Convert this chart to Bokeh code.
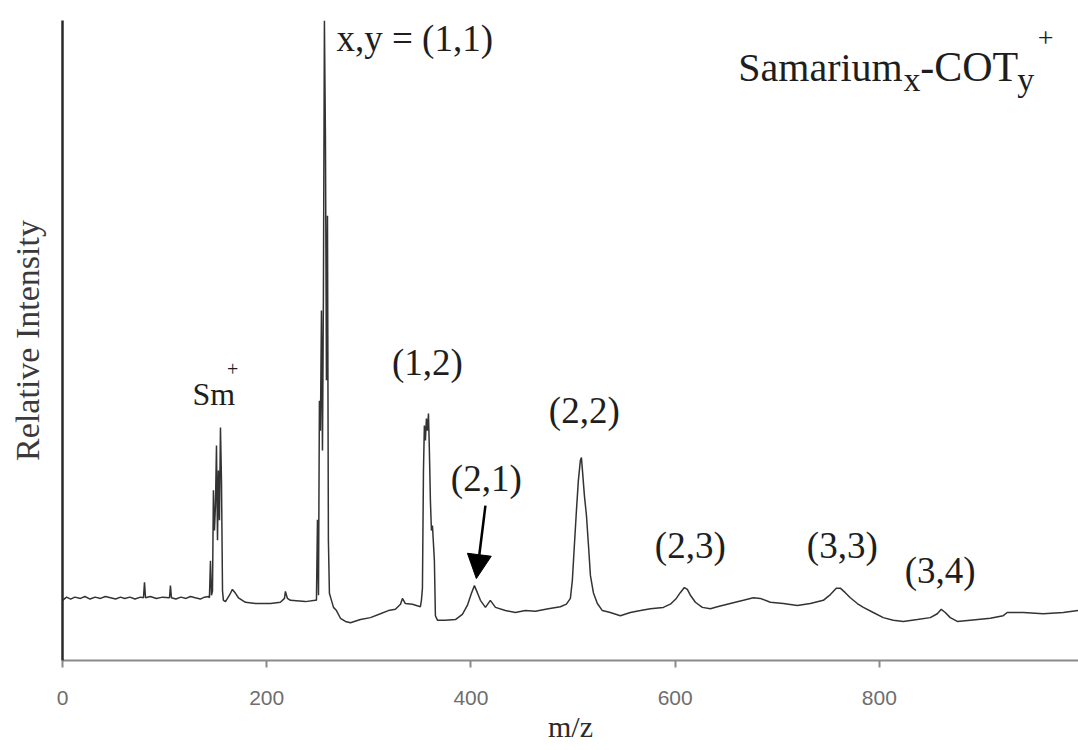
from bokeh.plotting import figure
from bokeh.models import Range1d, Arrow, NormalHead, Label, FixedTicker
from bokeh.embed import file_html
from bokeh.resources import INLINE

# Mass spectrum of samarium / cyclooctatetraene cluster ions
mz = [
    0.0, 4.0, 8.0, 12.0, 17.6, 22.0, 27.0, 32.0, 37.2, 42.0, 47.0, 52.0, 56.8, 61.0, 66.0, 71.0,
    76.4, 79.3, 80.3, 81.3, 86.0, 92.0, 98.0, 104.8, 105.7, 106.7, 111.0, 116.0, 121.0, 125.3,
    130.0, 135.0, 139.0, 143.0,
    143.9, 144.9, 145.9, 146.9, 147.8, 148.8, 149.8, 150.8, 151.8, 152.7, 153.7, 154.7, 155.7, 156.7, 157.6,
    159.6, 163.5, 166.4, 169.4, 172.3, 179.2, 189.0, 203.7, 213.4, 217.4, 218.3, 220.3, 223.2, 237.9, 247.7,
    248.7, 249.7, 250.7, 251.6, 252.6, 253.6, 254.6, 255.5, 256.5, 257.5, 258.5, 259.5, 260.4, 261.4,
    263.4, 265.4, 268.3, 272.2, 277.1, 282.0, 291.8, 301.6, 311.3, 319.2, 326.0, 331.0, 332.9, 335.8,
    342.7, 350.5,
    351.5, 352.5, 353.5, 354.4, 355.4, 356.4, 357.4, 358.4, 359.3, 360.3, 361.3, 362.3, 364.2, 365.2, 367.2,
    375.0, 384.8, 391.6, 396.5, 400.5, 403.4, 406.3, 409.3, 414.2, 419.0, 424.0, 433.7, 443.5, 453.3,
    463.1, 475.8, 487.6, 493.5,
    497.4, 499.3, 501.3, 503.3, 505.2, 507.2, 508.2, 509.2, 511.1, 513.1, 515.1, 517.0, 519.9, 523.8,
    528.7, 536.5, 546.3, 556.1, 566.0, 575.8, 588.4, 595.3, 601.1, 605.0, 609.0, 611.9, 614.9, 619.8,
    626.6, 634.5, 641.3, 654.0, 666.8, 676.6, 683.4, 693.2, 706.0, 719.6, 732.4, 745.1, 752.0, 757.8,
    761.7, 766.6, 771.5, 778.4, 784.3, 794.0, 803.8, 813.6, 823.4, 837.1, 849.9, 856.7, 860.6, 864.5,
    869.4, 876.3, 889.0, 908.6, 921.3, 925.2, 940.9, 960.5, 980.1, 994.8,
]
intensity = [
    9.4, 9.9, 9.6, 9.9, 9.7, 10.0, 9.6, 9.9, 9.7, 10.0, 9.8, 9.6, 9.9, 9.7, 9.9, 9.6,
    9.9, 9.8, 12.2, 9.8, 10.0, 9.7, 9.9, 9.8, 11.7, 9.8, 9.6, 9.9, 9.7, 10.0,
    9.8, 9.6, 9.9, 10.0,
    9.8, 15.6, 10.2, 10.9, 26.6, 20.3, 24.2, 33.6, 18.8, 29.7, 21.9, 36.4, 28.1, 10.9, 9.4,
    9.2, 10.2, 11.1, 10.5, 9.8, 9.1, 8.9, 8.9, 9.1, 9.7, 10.8, 9.7, 9.4, 9.2, 9.4,
    9.4, 22.0, 10.2, 40.6, 35.9, 54.7, 32.8, 56.3, 100.0, 82.0, 43.8, 69.5, 18.8, 10.5,
    9.4, 8.3, 7.8, 6.6, 6.1, 5.9, 6.4, 6.7, 7.3, 7.8, 8.0, 8.8, 9.7, 8.9,
    8.8, 8.4,
    9.4, 11.3, 29.7, 36.7, 34.4, 37.8, 35.9, 38.6, 32.8, 25.0, 20.3, 21.1, 15.6, 7.0, 6.3,
    6.3, 6.4, 7.2, 8.6, 10.5, 11.7, 10.6, 9.4, 8.3, 9.4, 8.3, 7.8, 7.5, 7.8,
    7.7, 8.1, 8.4, 8.8,
    9.7, 12.5, 18.0, 23.4, 28.1, 31.3, 31.7, 29.7, 25.8, 22.7, 18.0, 13.3, 10.6, 8.9,
    7.8, 7.5, 7.0, 7.5, 7.8, 8.1, 8.3, 8.8, 9.7, 10.6, 11.4, 11.1, 10.2, 9.1,
    8.3, 8.1, 8.4, 8.9, 9.4, 9.8, 9.7, 9.1, 8.9, 8.6, 8.9, 9.4, 10.3, 11.3,
    11.3, 10.6, 9.8, 8.9, 8.3, 7.5, 6.7, 6.3, 6.1, 6.4, 6.7, 7.3, 8.0, 7.5,
    6.7, 6.1, 6.3, 6.6, 7.0, 7.5, 7.5, 7.3, 7.5, 7.8,
]

# Cluster assignments (Sm_x COT_y)+
peak_labels = ["(1,2)", "(2,1)", "(2,2)", "(2,3)", "(3,3)", "(3,4)"]
label_mz = [357.4, 415.0, 511.0, 614.8, 763.7, 859.6]
label_y = [46.6, 28.4, 39.1, 18.0, 18.0, 14.0]

x_ticks = [0, 200, 400, 600, 800]

SERIF = "Liberation Serif"
INK = "#1e1e1e"

p = figure(width=1078, height=750, output_backend="svg", toolbar_location=None,
           x_range=Range1d(0, 995), y_range=Range1d(0, 100),
           min_border_left=62, min_border_right=0, min_border_top=20, min_border_bottom=90)
p.outline_line_color = None
p.xgrid.grid_line_color = None
p.ygrid.grid_line_color = None
p.background_fill_color = "white"
p.border_fill_color = "white"

# x axis: grey line, outward ticks, sans-serif grey numbers
p.xaxis.ticker = FixedTicker(ticks=x_ticks)
p.xaxis.axis_line_color = "#8a8a8a"
p.xaxis.axis_line_width = 2
p.xaxis.major_tick_line_color = "#8a8a8a"
p.xaxis.major_tick_line_width = 2
p.xaxis.major_tick_out = 7
p.xaxis.major_tick_in = 0
p.xaxis.minor_tick_line_color = None
p.xaxis.major_label_text_font = "Liberation Sans"
p.xaxis.major_label_text_font_size = "21px"
p.xaxis.major_label_text_color = "#6e6e6e"
p.xaxis.major_label_standoff = 23
p.xaxis.axis_label = "m/z"
p.xaxis.axis_label_text_font = SERIF
p.xaxis.axis_label_text_font_style = "normal"
p.xaxis.axis_label_text_font_size = "30px"
p.xaxis.axis_label_text_color = "#2a2a2a"
p.xaxis.axis_label_standoff = 2

# y axis: plain dark line with a title only
p.yaxis.ticker = FixedTicker(ticks=[])
p.yaxis.axis_line_color = "#2a2a2a"
p.yaxis.axis_line_width = 2.5
p.yaxis.major_tick_line_color = None
p.yaxis.minor_tick_line_color = None
p.yaxis.axis_label = "Relative Intensity"
p.yaxis.axis_label_text_font = SERIF
p.yaxis.axis_label_text_font_style = "normal"
p.yaxis.axis_label_text_font_size = "34px"
p.yaxis.axis_label_text_color = "#3a3a3a"
p.yaxis.axis_label_standoff = 17

p.line(mz, intensity, line_color="#333333", line_width=1.5)

for txt, x, y in zip(peak_labels, label_mz, label_y):
    p.add_layout(Label(x=x, y=y, text=txt, text_font=SERIF, text_font_size="37px",
                       text_color=INK, text_align="center", text_baseline="middle"))

# Sm+
p.add_layout(Label(x=127.3, y=41.6, text="Sm", text_font=SERIF, text_font_size="32px",
                   text_color=INK, text_align="left", text_baseline="alphabetic"))
p.add_layout(Label(x=161.0, y=45.5, text="+", text_font=SERIF, text_font_size="20px",
                   text_color=INK, text_align="left", text_baseline="middle"))

# (1,1) label next to the base peak
p.add_layout(Label(x=268.3, y=97.2, text="x,y = (1,1)", text_font=SERIF, text_font_size="37px",
                   text_color=INK, text_align="left", text_baseline="middle"))

# Samarium_x-COT_y^+ title
p.add_layout(Label(x=661.8, y=92.7, text="Samarium", text_font=SERIF, text_font_size="40px",
                   text_color=INK, text_align="left", text_baseline="alphabetic"))
p.add_layout(Label(x=823.5, y=90.8, text="x", text_font=SERIF, text_font_size="34px",
                   text_color=INK, text_align="left", text_baseline="alphabetic"))
p.add_layout(Label(x=840.0, y=92.7, text="-COT", text_font=SERIF, text_font_size="42px",
                   text_color=INK, text_align="left", text_baseline="alphabetic"))
p.add_layout(Label(x=935.0, y=90.8, text="y", text_font=SERIF, text_font_size="34px",
                   text_color=INK, text_align="left", text_baseline="alphabetic"))
p.add_layout(Label(x=955.0, y=97.2, text="+", text_font=SERIF, text_font_size="28px",
                   text_color=INK, text_align="left", text_baseline="middle"))

# arrow pointing at the (2,1) peak
p.add_layout(Arrow(end=NormalHead(size=24, fill_color="black", line_color="black"),
                   x_start=414.2, y_start=24.2, x_end=405.3, y_end=12.8,
                   line_color="black", line_width=2.5))

open("out.html", "w").write(file_html(p, INLINE))
